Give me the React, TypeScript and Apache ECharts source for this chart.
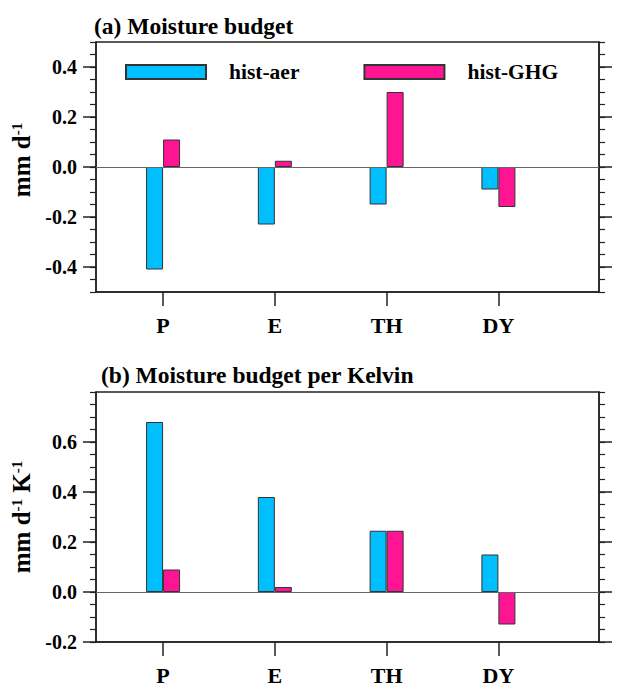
import { useEffect, useRef } from 'react';
import * as echarts from 'echarts';

const categories = ['P', 'E', 'TH', 'DY'];
const catPositions = [1, 2, 3, 4];

// (a) moisture budget, mm/day
const aerBudget = [-0.41, -0.23, -0.15, -0.09];
const ghgBudget = [0.11, 0.025, 0.3, -0.16];
const budgetTicks = [-0.4, -0.2, 0, 0.2, 0.4];

// (b) moisture budget per Kelvin, mm/day/K
const aerPerK = [0.68, 0.38, 0.245, 0.15];
const ghgPerK = [0.09, 0.02, 0.245, -0.13];
const perKTicks = [-0.2, 0, 0.2, 0.4, 0.6];

const FONT = "'Liberation Serif', 'Times New Roman', serif";
const INK = '#222';
const AER_COLOR = '#00BFFF';
const GHG_COLOR = '#FF1493';

const panels = [
  {
    title: '(a) Moisture budget',
    titleLeft: 94,
    titleTop: 14,
    top: 42,
    min: -0.5,
    max: 0.5,
    ticks: budgetTicks,
    unit: '{u|mm d}{s|-1}',
    namePad: [0, 0, 0, 14],
    aer: aerBudget,
    ghg: ghgBudget,
  },
  {
    title: '(b) Moisture budget per Kelvin',
    titleLeft: 101,
    titleTop: 363,
    top: 392,
    min: -0.2,
    max: 0.8,
    ticks: perKTicks,
    unit: '{u|mm d}{s|-1}{u| K}{s|-1}',
    namePad: [0, 0, 0, 0],
    aer: aerPerK,
    ghg: ghgPerK,
  },
];

function App() {
  const chartRef = useRef<HTMLDivElement>(null);

  useEffect(() => {
    if (!chartRef.current) return;
    const chart = echarts.init(chartRef.current, null, { renderer: 'svg' });

    const boldText = { fontFamily: FONT, fontWeight: 'bold' as const, color: '#000' };
    const yAxes: any[] = [];
    const series: any[] = [];

    panels.forEach((p, gi) => {
      const base = { gridIndex: gi, min: p.min, max: p.max, splitLine: { show: false } };
      // left, major ticks + labels
      const mainIdx = yAxes.length;
      yAxes.push({
        ...base,
        type: 'value',
        position: 'left',
        interval: 0.1,
        name: p.unit,
        nameLocation: 'middle',
        nameRotate: 90,
        nameGap: 56,
        nameTextStyle: {
          padding: p.namePad,
          rich: {
            u: { ...boldText, fontSize: 25 },
            s: { ...boldText, fontSize: 15, verticalAlign: 'top' },
          },
        },
        axisLine: { show: true, lineStyle: { color: INK, width: 1.5 } },
        axisTick: { show: true, length: 13, customValues: p.ticks, lineStyle: { color: INK, width: 1.5 } },
        axisLabel: {
          ...boldText,
          fontSize: 20,
          margin: 19,
          customValues: p.ticks,
          formatter: (v: number) => v.toFixed(1),
        },
      });
      // left, minor ticks
      yAxes.push({
        ...base,
        type: 'value',
        position: 'left',
        interval: 0.05,
        axisLine: { show: false },
        axisTick: { show: true, length: 6, lineStyle: { color: INK, width: 1.2 } },
        axisLabel: { show: false },
      });
      // right, major
      yAxes.push({
        ...base,
        type: 'value',
        position: 'right',
        interval: 0.1,
        axisLine: { show: true, lineStyle: { color: INK, width: 1.5 } },
        axisTick: { show: true, length: 13, customValues: p.ticks, lineStyle: { color: INK, width: 1.5 } },
        axisLabel: { show: false },
      });
      // right, minor
      yAxes.push({
        ...base,
        type: 'value',
        position: 'right',
        interval: 0.05,
        axisLine: { show: false },
        axisTick: { show: true, length: 6, lineStyle: { color: INK, width: 1.2 } },
        axisLabel: { show: false },
      });

      const barCommon = {
        type: 'bar',
        xAxisIndex: gi,
        yAxisIndex: mainIdx,
        barWidth: 17,
        barGap: '0%',
      };
      series.push({
        ...barCommon,
        name: 'hist-aer',
        data: catPositions.map((x, i) => [x, p.aer[i]]),
        itemStyle: { color: AER_COLOR, borderColor: '#333', borderWidth: 1 },
        markLine: {
          silent: true,
          symbol: 'none',
          label: { show: false },
          lineStyle: { color: '#666', width: 1, type: 'solid' },
          data: [{ yAxis: 0 }],
        },
      });
      series.push({
        ...barCommon,
        name: 'hist-GHG',
        data: catPositions.map((x, i) => [x, p.ghg[i]]),
        itemStyle: { color: GHG_COLOR, borderColor: '#333', borderWidth: 1 },
      });
    });

    const option: any = {
      animation: false,
      backgroundColor: '#fff',
      textStyle: { fontFamily: FONT, fontWeight: 'bold' },
      title: panels.map((p) => ({
        text: p.title,
        left: p.titleLeft,
        top: p.titleTop,
        padding: 0,
        textStyle: { ...boldText, fontSize: 23.5 },
      })),
      legend: {
        left: 125,
        top: 61,
        padding: 0,
        itemWidth: 80,
        itemHeight: 14,
        itemGap: 64,
        icon: 'rect',
        selectedMode: false,
        textStyle: { ...boldText, fontSize: 21.5, padding: [0, 0, 0, 18] },
        data: ['hist-aer', 'hist-GHG'],
      },
      grid: panels.map((p) => ({
        left: 96,
        right: 31,
        top: p.top,
        height: 250,
        show: true,
        borderColor: INK,
        borderWidth: 1.5,
        backgroundColor: 'transparent',
      })),
      xAxis: panels.map((_, gi) => ({
        type: 'value',
        gridIndex: gi,
        min: 0.4,
        max: 4.9,
        splitLine: { show: false },
        axisLine: { show: true, onZero: false, lineStyle: { color: INK, width: 1.5 } },
        axisTick: { show: true, length: 14, customValues: catPositions, lineStyle: { color: INK, width: 1.5 } },
        axisLabel: {
          ...boldText,
          fontSize: 22,
          margin: 22,
          customValues: catPositions,
          formatter: (v: number) => categories[Math.round(v) - 1] ?? '',
        },
      })),
      yAxis: yAxes,
      series,
    };

    chart.setOption(option);
    return () => chart.dispose();
  }, []);

  return (
    <div
      ref={chartRef}
      style={{ position: 'fixed', left: 0, top: 0, width: 630, height: 698, background: '#fff' }}
    />
  );
}

export default App;
